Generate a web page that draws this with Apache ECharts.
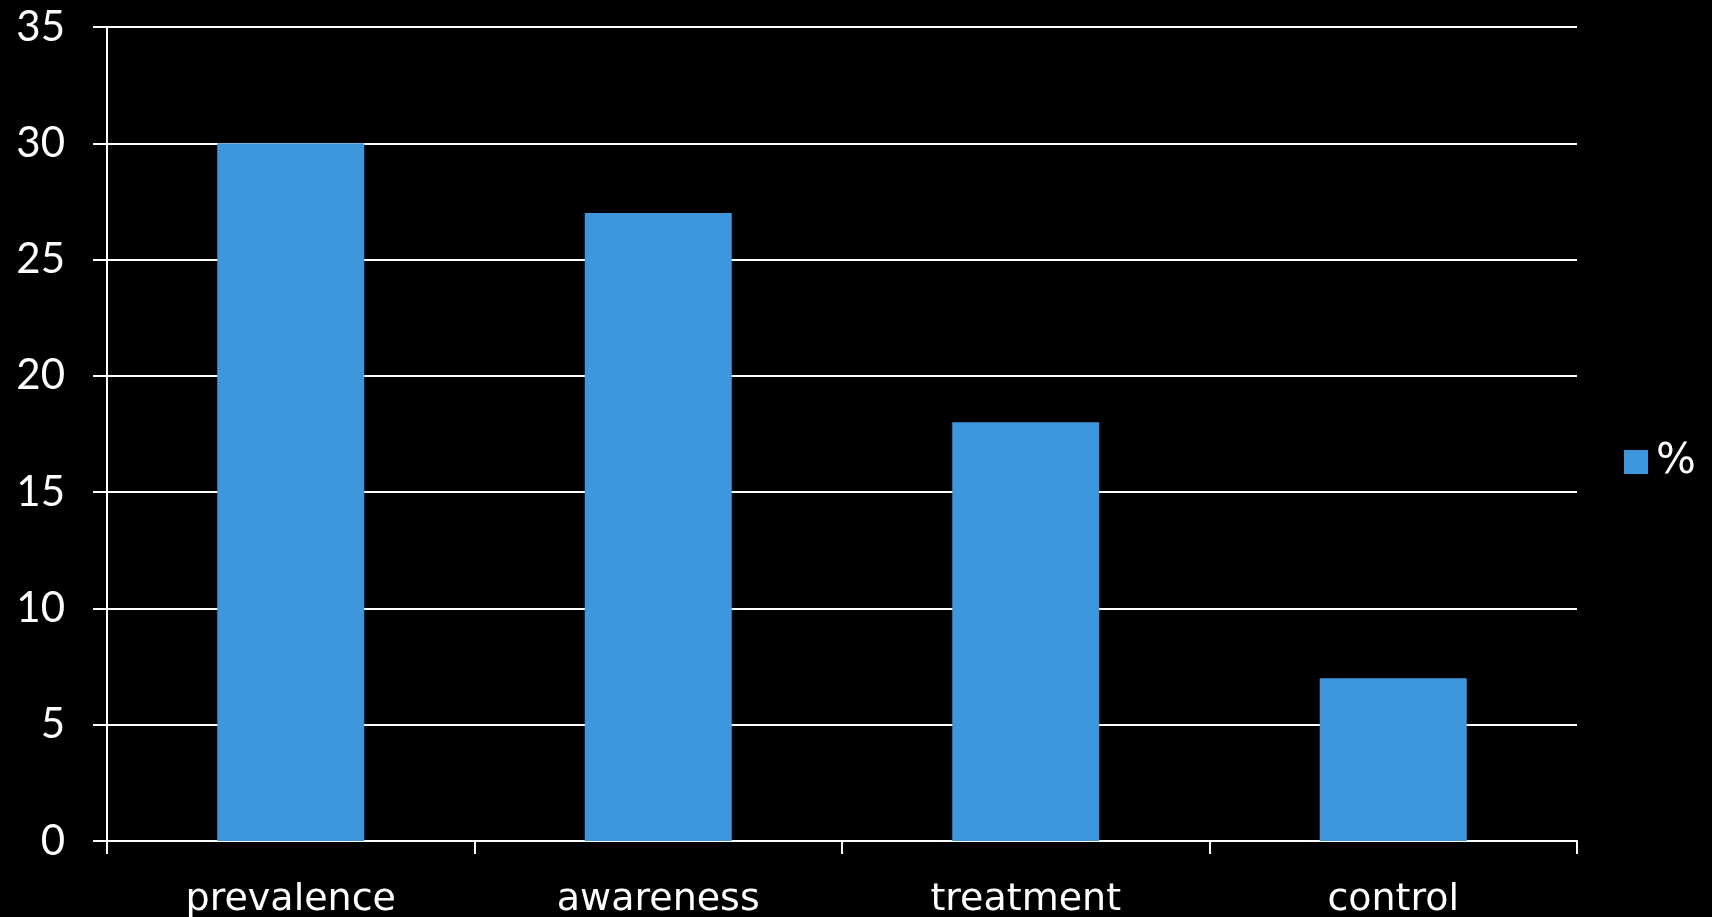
<!DOCTYPE html>
<html>
<head>
<meta charset="utf-8">
<script src="https://cdn.jsdelivr.net/npm/echarts@6/dist/echarts.min.js"></script>
<style>
  html, body { margin: 0; padding: 0; background: #000; }
  #chart { width: 1712px; height: 917px; }
</style>
</head>
<body>
<div id="chart"></div>
<script>
// data
const categories = ['prevalence', 'awareness', 'treatment', 'control']
const percentValues = [30, 27, 18, 7]
const seriesName = '%'

const chart = echarts.init(document.getElementById('chart'))

const option = {
  backgroundColor: '#000',
  animation: false,
  textStyle: { fontFamily: 'Lato' },
  grid: { left: 107, right: 135, top: 27, bottom: 76, outerBoundsMode: 'none' },
  legend: {
    data: [seriesName],
    orient: 'vertical',
    left: 1624,
    top: 441,
    padding: 0,
    icon: 'rect',
    itemWidth: 24,
    itemHeight: 24,
    itemGap: 8,
    textStyle: { color: '#fff', fontSize: 42, fontFamily: 'DejaVu Sans', padding: [0, 0, 0, 3] }
  },
  xAxis: {
    type: 'category',
    data: categories,
    axisLine: { lineStyle: { color: '#fff', width: 2 } },
    axisTick: { show: true, length: 13, lineStyle: { color: '#fff', width: 2 } },
    axisLabel: { color: '#fff', fontSize: 38, fontFamily: 'DejaVu Sans', margin: 40 },
    splitLine: { show: false }
  },
  yAxis: {
    type: 'value',
    min: 0,
    max: 35,
    interval: 5,
    axisLine: { show: true, lineStyle: { color: '#fff', width: 2 } },
    axisTick: { show: true, length: 14, lineStyle: { color: '#fff', width: 2 } },
    axisLabel: { color: '#fff', fontSize: 42, margin: 42 },
    splitLine: { lineStyle: { color: '#fff', width: 2 } }
  },
  series: [
    {
      name: seriesName,
      type: 'bar',
      data: percentValues,
      barWidth: '40%',
      itemStyle: { color: '#3E97DC' }
    }
  ]
}

chart.setOption(option)
</script>
</body>
</html>
